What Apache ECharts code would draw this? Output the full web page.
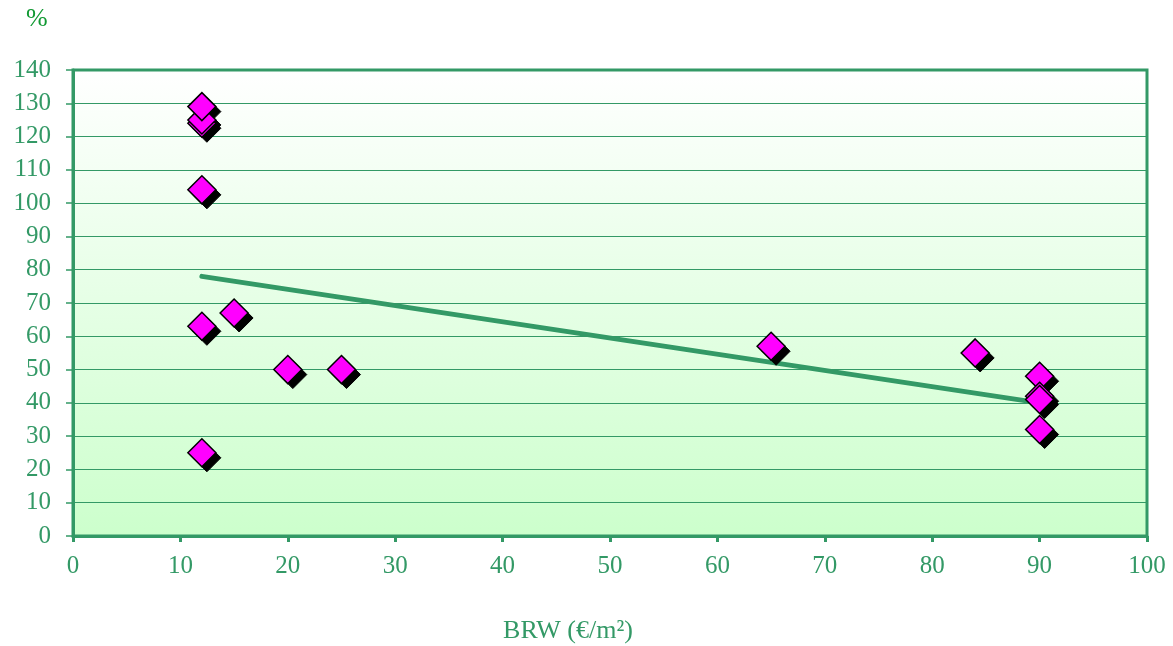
<!DOCTYPE html>
<html>
<head>
<meta charset="utf-8">
<script src="https://cdn.jsdelivr.net/npm/echarts@6/dist/echarts.min.js"></script>
<style>
html,body{margin:0;padding:0;background:#fff;}
#chart{width:1173px;height:646px;}
</style>
</head>
<body>
<div id="chart"></div>
<script>
// data
var brwX = [12, 12, 12, 12, 12, 12, 15, 20, 25, 65, 84, 90, 90, 90, 90];
var pctY = [124, 125, 129, 104, 63, 25, 67, 50, 50, 57, 55, 48, 42, 41, 32];
var trendX = [12, 90];
var trendY = [78, 40];
var xTicks = [0, 10, 20, 30, 40, 50, 60, 70, 80, 90, 100];
var yTicks = [0, 10, 20, 30, 40, 50, 60, 70, 80, 90, 100, 110, 120, 130, 140];

var points = brwX.map(function (x, i) { return [x, pctY[i]]; });
var trend = trendX.map(function (x, i) { return [x, trendY[i]]; });

var green = '#339966';
var font = '"Liberation Serif", "DejaVu Serif", serif';

var chart = echarts.init(document.getElementById('chart'));
chart.setOption({
  animation: false,
  graphic: [{
    type: 'text', left: 26, top: 6,
    style: { text: '%', fill: '#119933', font: '26px ' + font }
  }],
  grid: {
    left: 73, top: 70, width: 1074, height: 466,
    outerBoundsMode: 'none', containLabel: false,
    show: true,
    borderColor: green, borderWidth: 3,
    backgroundColor: {
      type: 'linear', x: 0, y: 0, x2: 0, y2: 1,
      colorStops: [{ offset: 0, color: '#ffffff' }, { offset: 1, color: '#ccffcc' }]
    }
  },
  xAxis: {
    type: 'value', min: xTicks[0], max: xTicks[xTicks.length - 1], interval: 10,
    name: 'BRW (€/m²)', nameLocation: 'middle', nameGap: 82,
    nameTextStyle: { color: green, fontFamily: font, fontSize: 26, padding: [0, 84, 0, 0] },
    axisLine: { show: true, onZero: false, lineStyle: { color: green, width: 3 } },
    axisTick: { show: true, length: 6, lineStyle: { color: green, width: 3 } },
    axisLabel: { color: green, fontFamily: font, fontSize: 25, margin: 18 },
    splitLine: { show: false }
  },
  yAxis: {
    type: 'value', min: yTicks[0], max: yTicks[yTicks.length - 1], interval: 10,
    axisLine: { show: true, onZero: false, lineStyle: { color: green, width: 3 } },
    axisTick: { show: true, length: 7, lineStyle: { color: green, width: 1.5 } },
    axisLabel: { color: green, fontFamily: font, fontSize: 25, margin: 22 },
    splitLine: { show: true, lineStyle: { color: green, width: 1.2 } }
  },
  series: [
    {
      type: 'line', data: trend, symbol: 'none', z: 3,
      lineStyle: { color: green, width: 5, cap: 'round' }
    },
    {
      type: 'scatter', data: points, symbol: 'diamond', symbolSize: 28,
      symbolOffset: [5, 5], z: 4,
      itemStyle: { color: '#000000', borderColor: '#000000', borderWidth: 1, opacity: 1 }
    },
    {
      type: 'scatter', data: points, symbol: 'diamond', symbolSize: 28, z: 5,
      itemStyle: { color: '#ff00ff', borderColor: '#000000', borderWidth: 1.5, opacity: 1 }
    }
  ]
});
</script>
</body>
</html>
